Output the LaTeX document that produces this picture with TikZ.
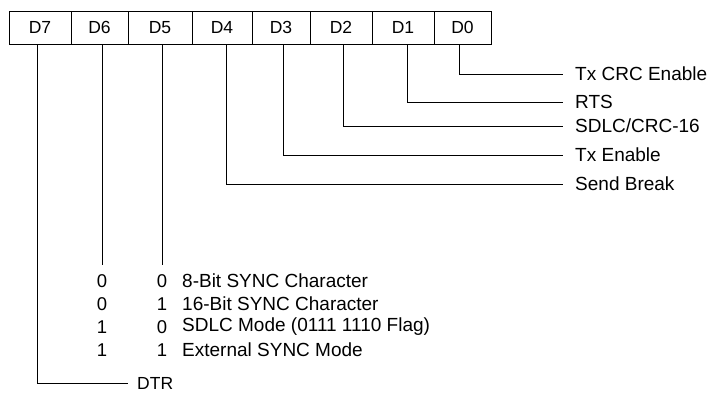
\documentclass[tikz,border=0pt]{standalone}
\usepackage{fontspec}
\setmainfont{Liberation Sans}
\usepackage{tikz}
\usetikzlibrary{positioning, calc}

\begin{document}
\begin{tikzpicture}[
    x=1pt, y=-1pt,
    bitcell/.style={draw, minimum height=33pt, inner sep=0pt, font=\fontsize{17.5}{20}\selectfont},
    tap/.style={semithick},
    flag/.style={anchor=west, inner sep=0pt, inner xsep=12pt, font=\fontsize{19}{22}\selectfont},
    bit/.style={inner sep=0pt, font=\fontsize{18.5}{21}\selectfont},
    mode/.style={anchor=west, inner sep=0pt, font=\fontsize{19}{22}\selectfont},
  ]
    \useasboundingbox (0,0) rectangle (708,397);

    % ── register cells ──
    \node[bitcell, minimum width=62pt] (b7) at (40,27.5) {D7};
    \node[bitcell, minimum width=57pt] (b6) at (99.5,27.5) {D6};
    \node[bitcell, minimum width=64pt] (b5) at (160,27.5) {D5};
    \node[bitcell, minimum width=60pt] (b4) at (222,27.5) {D4};
    \node[bitcell, minimum width=58pt] (b3) at (281,27.5) {D3};
    \node[bitcell, minimum width=62pt] (b2) at (341,27.5) {D2};
    \node[bitcell, minimum width=62pt] (b1) at (403,27.5) {D1};
    \node[bitcell, minimum width=57pt] (b0) at (462.5,27.5) {D0};
    % tap points under each cell
    \coordinate (t7) at ([xshift=-3pt]b7.south);
    \coordinate (t6) at ([xshift=2.5pt]b6.south);
    \coordinate (t5) at ([xshift=2pt]b5.south);
    \coordinate (t4) at ([xshift=4pt]b4.south);
    \coordinate (t3) at ([xshift=2pt]b3.south);
    \coordinate (t2) at ([xshift=2pt]b2.south);
    \coordinate (t1) at ([xshift=4pt]b1.south);
    \coordinate (t0) at ([xshift=-3.5pt]b0.south);

    % ── single-bit flags (right) ──
    \node[flag] (f0) at (563,74) {Tx CRC Enable};
    \node[flag] (f1) at (563,102) {RTS};
    \node[flag] (f2) at (563,126) {SDLC/CRC-16};
    \node[flag] (f3) at (563,155) {Tx Enable};
    \node[flag] (f4) at (563,184) {Send Break};
    \draw[tap] (t0) |- (f0.west);
    \draw[tap] (t1) |- (f1.west);
    \draw[tap] (t2) |- (f2.west);
    \draw[tap] (t3) |- (f3.west);
    \draw[tap] (t4) |- (f4.west);

    % ── sync mode select (D6, D5) ──
    \coordinate (e6) at (t6 |- 0,265);
    \coordinate (e5) at (t5 |- 0,265);
    \draw[tap] (t6) -- (e6);
    \draw[tap] (t5) -- (e5);
    \node[bit] (r6a) at (t6 |- 0,281) {0};
    \node[bit] (r6b) at (t6 |- 0,304) {0};
    \node[bit] (r6c) at (t6 |- 0,327) {1};
    \node[bit] (r6d) at (t6 |- 0,350) {1};
    \node[bit] (r5a) at (t5 |- 0,281) {0};
    \node[bit] (r5b) at (t5 |- 0,304) {1};
    \node[bit] (r5c) at (t5 |- 0,327) {0};
    \node[bit] (r5d) at (t5 |- 0,350) {1};
    \node[mode] (m0) at (182,281) {8-Bit SYNC Character};
    \node[mode] (m1) at (182,304) {16-Bit SYNC Character};
    \node[mode] (m2) at (182,327) {SDLC Mode (0111 1110 Flag)};
    \node[mode] (m3) at (182,350) {External SYNC Mode};

    % ── DTR (D7) ──
    \node[flag, inner xsep=9pt, font=\fontsize{17.5}{20}\selectfont] (f7) at (128,383) {DTR};
    \draw[tap] (t7) |- (f7.west);
\end{tikzpicture}
\end{document}
